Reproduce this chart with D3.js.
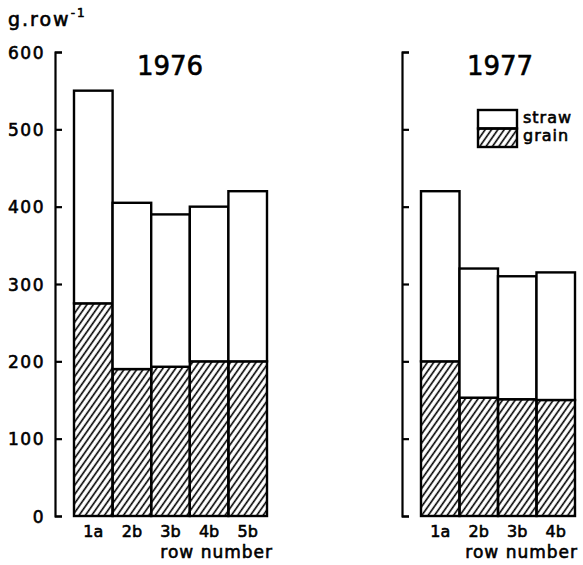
<!DOCTYPE html>
<html>
<head>
<meta charset="utf-8">
<script src="https://cdn.jsdelivr.net/npm/d3@7"></script>
<style>
  body { margin: 0; background: #fff; }
  svg { display: block; }
  text { font-family: "DejaVu Sans", sans-serif; fill: #000; stroke: #000; stroke-width: 0.6px; }
</style>
</head>
<body>
<svg width="583" height="565"></svg>
<script>
// values (g per row)
const rows1976 = ["1a", "2b", "3b", "4b", "5b"];
const grain1976 = [275, 190, 193, 200, 200];
const straw1976 = [275, 215, 197, 200, 220];

const rows1977 = ["1a", "2b", "3b", "4b"];
const grain1977 = [200, 153, 151, 150];
const straw1977 = [220, 167, 159, 165];

const yTicks = [0, 100, 200, 300, 400, 500, 600];
const seriesKeys = ["grain", "straw"];

const svg = d3.select("svg");

// hatch for grain
svg.append("defs").append("pattern")
    .attr("id", "hatch")
    .attr("patternUnits", "userSpaceOnUse")
    .attr("width", 5.2)
    .attr("height", 10)
    .attr("patternTransform", "rotate(35)")
  .append("line")
    .attr("x1", 1.5).attr("y1", 0)
    .attr("x2", 1.5).attr("y2", 10)
    .attr("stroke", "#000")
    .attr("stroke-width", 1.6);

const y = d3.scaleLinear().domain([0, 600]).range([516, 52]);

const fill = { grain: "url(#hatch)", straw: "#fff" };

function panel(opts) {
  const x = d3.scaleBand().domain(opts.rows).range(opts.xRange).padding(0);
  const table = opts.rows.map((r, i) => ({ row: r, grain: opts.grain[i], straw: opts.straw[i] }));
  const stacked = d3.stack().keys(seriesKeys)(table);

  // axis
  const axis = d3.axisLeft(y)
    .tickValues(yTicks)
    .tickSizeInner(-7)
    .tickSizeOuter(-7)
    .tickPadding(10)
    .tickFormat(opts.labels ? d3.format("d") : () => "");
  const ga = svg.append("g")
    .attr("transform", `translate(${opts.axisX},0)`)
    .call(axis);
  ga.select(".domain").attr("stroke-width", 2.2);
  ga.selectAll(".tick line").attr("stroke-width", 2.2);
  ga.selectAll(".tick text")
    .style("font-size", "17px")
    .attr("letter-spacing", 1.5)
    .attr("dy", "0.36em");

  // bars
  svg.append("g").selectAll("g")
    .data(stacked)
    .join("g")
      .attr("fill", d => fill[d.key])
    .selectAll("rect")
    .data(d => d)
    .join("rect")
      .attr("x", d => x(d.data.row))
      .attr("width", x.bandwidth())
      .attr("y", d => y(d[1]))
      .attr("height", d => y(d[0]) - y(d[1]))
      .attr("stroke", "#000")
      .attr("stroke-width", 2.4);

  // row labels
  svg.append("g").selectAll("text")
    .data(opts.rows)
    .join("text")
      .attr("x", d => x(d) + x.bandwidth() / 2)
      .attr("y", 537)
      .attr("text-anchor", "middle")
      .style("font-size", "16px")
      .text(d => d);

  svg.append("text")
    .attr("x", opts.xLabelEnd)
    .attr("y", 558)
    .attr("text-anchor", "end")
    .attr("letter-spacing", 1)
    .style("font-size", "17px")
    .text("row number");

  svg.append("text")
    .attr("x", opts.titleX)
    .attr("y", 75)
    .attr("text-anchor", "middle")
    .style("font-size", "26px")
    .text(opts.title);
}

panel({ rows: rows1976, grain: grain1976, straw: straw1976, xRange: [74, 267],
        axisX: 55, labels: true, xLabelEnd: 273, titleX: 170, title: "1976" });
panel({ rows: rows1977, grain: grain1977, straw: straw1977, xRange: [421, 575],
        axisX: 402, labels: false, xLabelEnd: 578, titleX: 500, title: "1977" });

// unit label
const unit = svg.append("text").attr("x", 8).attr("y", 26).style("font-size", "19px").attr("letter-spacing", 2);
unit.append("tspan").text("g.row");
unit.append("tspan").attr("dy", -9).style("font-size", "12px").text("-1");

// legend
const legend = svg.append("g").attr("transform", "translate(478,110)");
legend.selectAll("rect")
  .data(["straw", "grain"])
  .join("rect")
    .attr("x", 0)
    .attr("y", (d, i) => i * 18.5)
    .attr("width", 39)
    .attr("height", 18.5)
    .attr("fill", d => fill[d])
    .attr("stroke", "#000")
    .attr("stroke-width", 2.4);
legend.selectAll("text")
  .data(["straw", "grain"])
  .join("text")
    .attr("x", 45)
    .attr("y", (d, i) => 13 + i * 18)
    .attr("letter-spacing", 1)
    .style("font-size", "16px")
    .text(d => d);
</script>
</body>
</html>
